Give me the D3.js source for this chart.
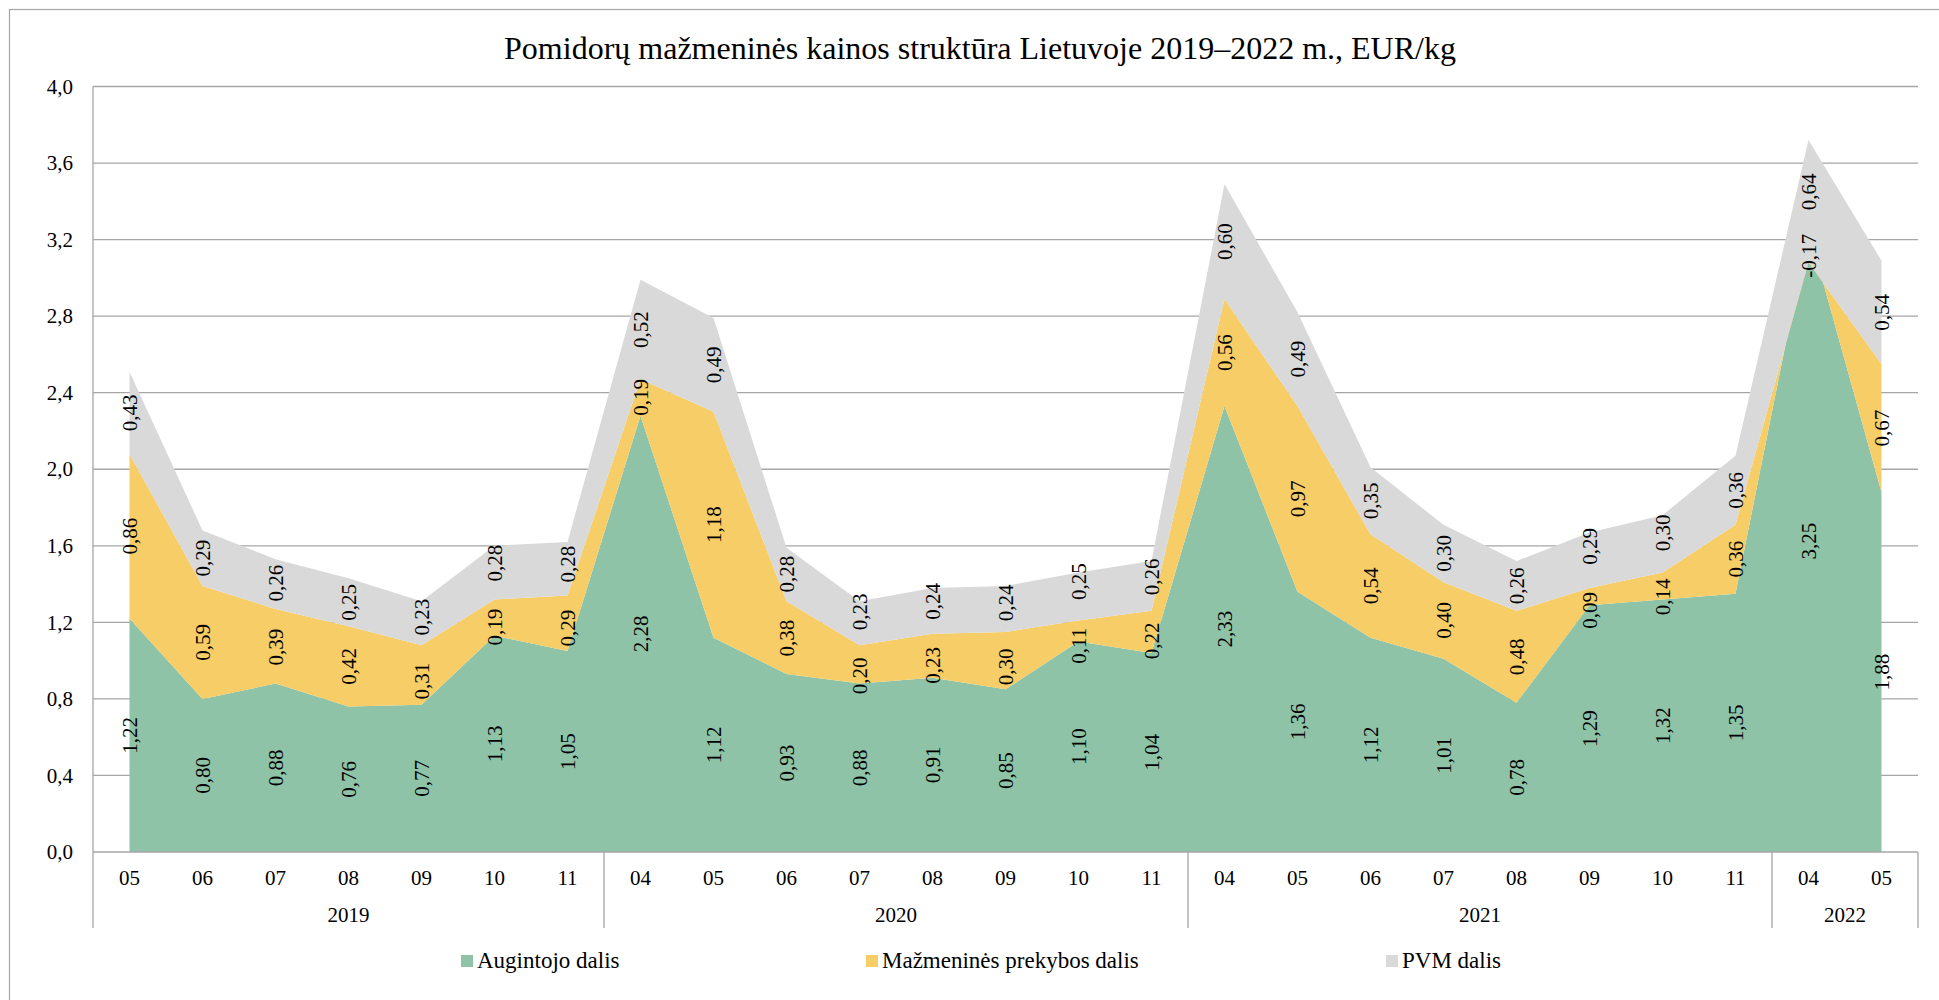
<!DOCTYPE html>
<html lang="lt">
<head>
<meta charset="utf-8">
<title>Pomidorų mažmeninės kainos struktūra</title>
<script src="https://cdn.jsdelivr.net/npm/d3@7"></script>
<style>
  html, body { margin: 0; padding: 0; background: #fff; }
  svg, svg text { font-family: "Liberation Serif", "Times New Roman", serif; }
  svg { display: block; }
</style>
</head>
<body>
<svg id="chart" width="1939" height="1000"></svg>
<script>
// Month of each observation and the year it belongs to
const months = ["05","06","07","08","09","10","11",
                "04","05","06","07","08","09","10","11",
                "04","05","06","07","08","09","10","11",
                "04","05"];
const years  = ["2019","2019","2019","2019","2019","2019","2019",
                "2020","2020","2020","2020","2020","2020","2020","2020",
                "2021","2021","2021","2021","2021","2021","2021","2021",
                "2022","2022"];

// Price components, EUR/kg
const augintojo = [1.22,0.80,0.88,0.76,0.77,1.13,1.05,
                   2.28,1.12,0.93,0.88,0.91,0.85,1.10,1.04,
                   2.33,1.36,1.12,1.01,0.78,1.29,1.32,1.35,
                   3.25,1.88];
const prekybos  = [0.86,0.59,0.39,0.42,0.31,0.19,0.29,
                   0.19,1.18,0.38,0.20,0.23,0.30,0.11,0.22,
                   0.56,0.97,0.54,0.40,0.48,0.09,0.14,0.36,
                   -0.17,0.67];
const pvm       = [0.43,0.29,0.26,0.25,0.23,0.28,0.28,
                   0.52,0.49,0.28,0.23,0.24,0.24,0.25,0.26,
                   0.60,0.49,0.35,0.30,0.26,0.29,0.30,0.36,
                   0.64,0.54];

const seriesNames = ["Augintojo dalis", "Mažmeninės prekybos dalis", "PVM dalis"];
const yTicks = [0, 0.4, 0.8, 1.2, 1.6, 2.0, 2.4, 2.8, 3.2, 3.6, 4.0];
const title = "Pomidorų mažmeninės kainos struktūra Lietuvoje 2019–2022 m., EUR/kg";

const SERIF = '"Liberation Serif", "Times New Roman", serif';
const colors = ["#8ec3a7", "#f6cd67", "#d9d9d9"];
const gridColor = "#a6a6a6";

const rows = months.map((m, i) => ({
  i, month: m, year: years[i],
  a: augintojo[i], p: prekybos[i], v: pvm[i]
}));
const keys = ["a", "p", "v"];

const lt = d3.formatLocale({ decimal: ",", thousands: " ", grouping: [3], currency: ["", " €"], minus: "-" });
const fmt2 = lt.format(".2f");
const fmt1 = lt.format(".1f");

const svg = d3.select("#chart");

// chart frame
svg.append("rect")
  .attr("x", 9.5).attr("y", 9.5)
  .attr("width", 1960).attr("height", 1010)
  .attr("fill", "#fff").attr("stroke", "#a6a6a6").attr("stroke-width", 1.2);

const plot = { left: 93, right: 1918, top: 86.5, bottom: 852 };

const x = d3.scaleBand()
  .domain(rows.map(d => d.i))
  .range([plot.left, plot.right])
  .padding(0);
const cx = i => x(i) + x.bandwidth() / 2;

const y = d3.scaleLinear().domain([0, 4]).range([plot.bottom, plot.top]);

// title
svg.append("text")
  .attr("x", 980).attr("y", 59)
  .attr("text-anchor", "middle")
  .style("font-family", SERIF)
  .style("font-size", "32px")
  .attr("fill", "#000")
  .text(title);

// horizontal gridlines
svg.append("g")
  .selectAll("line")
  .data(yTicks.filter(t => t > 0))
  .join("line")
  .attr("x1", plot.left).attr("x2", plot.right)
  .attr("y1", d => y(d)).attr("y2", d => y(d))
  .attr("stroke", gridColor).attr("stroke-width", 1.3);

// y axis labels
const yAxis = d3.axisLeft(y).tickValues(yTicks).tickFormat(fmt1).tickSize(0).tickPadding(20);
const yg = svg.append("g").attr("transform", `translate(${plot.left},0)`).call(yAxis);
yg.attr("font-family", null).attr("font-size", null);
yg.select(".domain").remove();
yg.selectAll("text")
  .style("font-family", SERIF)
  .style("font-size", "21px").attr("fill", "#000");

// stacked areas
const stack = d3.stack().keys(keys);
const layers = stack(rows);

const area = d3.area()
  .x(d => cx(d.data.i))
  .y0(d => y(d[0]))
  .y1(d => y(d[1]));

svg.append("g")
  .selectAll("path")
  .data(layers)
  .join("path")
  .attr("d", area)
  .attr("fill", (d, k) => colors[k]);

// value labels, centred in each band of the stack;
// where the retail and VAT labels would collide they are spread apart
const MIN_SEP = 64;
const labels = [];
rows.forEach((r, i) => {
  const pos = layers.map(layer => y((layer[i][0] + layer[i][1]) / 2));
  const gap = pos[1] - pos[2];
  if (gap < MIN_SEP) {
    const shift = (MIN_SEP - gap) / 2;
    pos[1] += shift;
    pos[2] -= shift;
  }
  layers.forEach((layer, k) => {
    labels.push({ x: cx(i), y: pos[k], text: fmt2(r[layer.key]) });
  });
});

svg.append("g")
  .selectAll("text")
  .data(labels)
  .join("text")
  .attr("transform", d => `translate(${d.x},${d.y}) rotate(-90)`)
  .attr("text-anchor", "middle")
  .attr("dy", "0.35em")
  .style("font-family", SERIF)
  .style("font-size", "21px")
  .attr("fill", "#000")
  .text(d => d.text);

// left axis line and baseline
svg.append("line")
  .attr("x1", plot.left).attr("x2", plot.left)
  .attr("y1", plot.top).attr("y2", 928)
  .attr("stroke", gridColor).attr("stroke-width", 1.3);
svg.append("line")
  .attr("x1", plot.left).attr("x2", plot.right)
  .attr("y1", plot.bottom).attr("y2", plot.bottom)
  .attr("stroke", gridColor).attr("stroke-width", 1.3);

// month labels
const xAxis = d3.axisBottom(x).tickFormat(i => months[i]).tickSize(0).tickPadding(18);
const xg = svg.append("g").attr("transform", `translate(0,${plot.bottom})`).call(xAxis);
xg.attr("font-family", null).attr("font-size", null);
xg.select(".domain").remove();
xg.selectAll("text")
  .style("font-family", SERIF)
  .style("font-size", "21px").attr("fill", "#000");

// year groups with separators
const groups = d3.groups(rows, d => d.year);
const sepG = svg.append("g");
groups.forEach(([yr, items]) => {
  const first = items[0].i, last = items[items.length - 1].i;
  const x0 = x(first), x1 = x(last) + x.bandwidth();
  sepG.append("line")
    .attr("x1", x1).attr("x2", x1)
    .attr("y1", plot.bottom).attr("y2", 928)
    .attr("stroke", gridColor).attr("stroke-width", 1.3);
  sepG.append("text")
    .attr("x", (x0 + x1) / 2).attr("y", 922)
    .attr("text-anchor", "middle")
    .style("font-family", SERIF)
    .style("font-size", "21px").attr("fill", "#000")
    .text(yr);
});

// legend
const legendX = [461, 866, 1386];
const lg = svg.append("g");
seriesNames.forEach((name, k) => {
  lg.append("rect")
    .attr("x", legendX[k]).attr("y", 955)
    .attr("width", 12).attr("height", 12)
    .attr("fill", colors[k]);
  lg.append("text")
    .attr("x", legendX[k] + 16).attr("y", 968)
    .style("font-family", SERIF)
    .style("font-size", "23px").attr("fill", "#000")
    .text(name);
});
</script>
</body>
</html>
